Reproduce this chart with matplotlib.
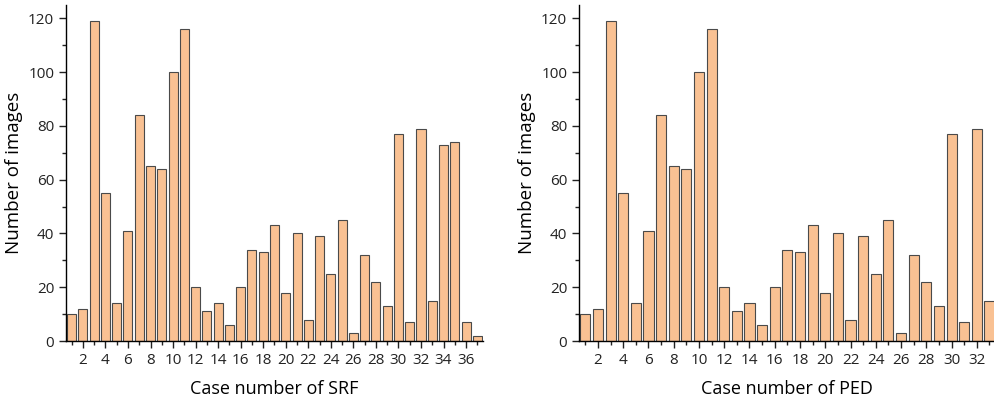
import matplotlib.pyplot as plt
from matplotlib.ticker import MultipleLocator

# number of images per case (SRF), PED uses the first 33 cases
srf_counts = [10, 12, 119, 55, 14, 41, 84, 65, 64, 100, 116, 20, 11, 14, 6, 20,
              34, 33, 43, 18, 40, 8, 39, 25, 45, 3, 32, 22, 13, 77, 7, 79, 15,
              73, 74, 7, 2]
ped_counts = srf_counts[:33]
srf_cases = list(range(1, len(srf_counts) + 1))
ped_cases = list(range(1, len(ped_counts) + 1))

plt.rcParams['font.family'] = ['Open Sans', 'DejaVu Sans']

bar_color = '#F9C193'
edge_color = '#4a4a4a'


def draw_panel(ax, cases, counts, xlabel, xmax):
    ax.bar(cases, counts, width=0.8, color=bar_color, edgecolor=edge_color,
           linewidth=0.8)
    ax.set_xlim(0.5, xmax)
    ax.set_ylim(0, 125)
    ax.spines['top'].set_visible(False)
    ax.spines['right'].set_visible(False)
    ax.spines['left'].set_linewidth(1.0)
    ax.spines['bottom'].set_linewidth(1.0)
    ax.xaxis.set_major_locator(MultipleLocator(2))
    ax.xaxis.set_minor_locator(MultipleLocator(1))
    ax.yaxis.set_major_locator(MultipleLocator(20))
    ax.yaxis.set_minor_locator(MultipleLocator(10))
    ax.tick_params(which='major', direction='out', length=5, width=1,
                   labelsize=11, colors='#222222')
    ax.tick_params(which='minor', direction='out', length=3, width=1,
                   colors='#222222')
    ax.set_xlabel(xlabel, fontsize=13, labelpad=9)
    ax.set_ylabel('Number of images', fontsize=13.5, labelpad=4)


fig = plt.figure(figsize=(9.94, 4.01), dpi=100)
ax1 = fig.add_axes([0.0664, 0.1496, 0.4195, 0.838])
ax2 = fig.add_axes([0.5825, 0.1496, 0.4175, 0.838])

draw_panel(ax1, srf_cases, srf_counts, 'Case number of SRF', 37.5)
draw_panel(ax2, ped_cases, ped_counts, 'Case number of PED', 33.36)

fig.savefig('out.png', dpi=100)
